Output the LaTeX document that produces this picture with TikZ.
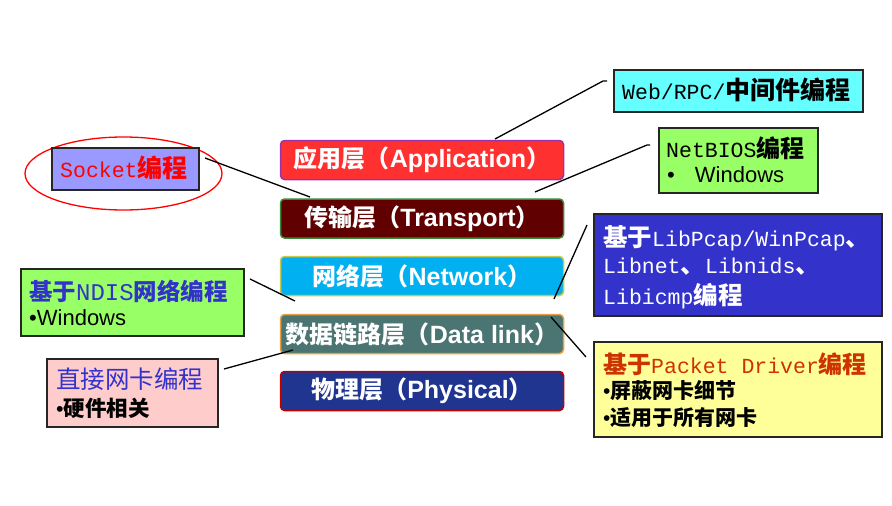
\documentclass[tikz,border=0pt]{standalone}
\usepackage{fontspec}
\usetikzlibrary{shapes.geometric}
\setmainfont{Liberation Sans}
\newfontfamily\cjk{Noto Sans CJK SC}
\newfontfamily\monof{Liberation Mono}
\definecolor{appred}{HTML}{FF3030}
\definecolor{appborder}{HTML}{9933AA}
\definecolor{trred}{HTML}{600000}
\definecolor{trborder}{HTML}{3A8A3A}
\definecolor{netblue}{HTML}{00B0F0}
\definecolor{netborder}{HTML}{C8C850}
\definecolor{dlgreen}{HTML}{4A7572}
\definecolor{dlborder}{HTML}{E8A040}
\definecolor{physblue}{HTML}{1F3590}
\definecolor{physborder}{HTML}{C00000}
\definecolor{sockfill}{HTML}{9999FF}
\definecolor{greenfill}{HTML}{99FF66}
\definecolor{pinkfill}{HTML}{FFCCCC}
\definecolor{cyanfill}{HTML}{66FFFF}
\definecolor{libfill}{HTML}{3333CC}
\definecolor{yelfill}{HTML}{FFFF99}
\definecolor{titleblue}{HTML}{3333CC}
\definecolor{titleorange}{HTML}{CC3300}
\newcommand\layertext[2]{{\cjk\bfseries #1（}{\fontsize{25}{28}\selectfont\bfseries #2}{\cjk\bfseries ）}}
\newcommand\cb[1]{{\cjk\bfseries #1}}
\newcommand\mo[1]{{\monof\fontsize{21.5}{24}\selectfont #1}}
\begin{document}
\begin{tikzpicture}[x=1pt,y=-1pt,
  layer/.style={draw, line width=1.5pt, rounded corners=4pt, minimum width=283pt, minimum height=39pt, inner sep=0pt, text=white, font=\fontsize{24}{27}\selectfont},
  infobox/.style={draw=black!85, line width=1.5pt, inner sep=0pt, anchor=north west},
  label/.style={anchor=west, inner sep=0pt},
  conn/.style={draw=black, line width=1.3pt}]
\useasboundingbox (0,0) rectangle (892,506);
\fill[white] (0,0) rectangle (892,506);

% layers
\node[layer, fill=appred, draw=appborder] (app) at (422,160) {\layertext{应用层}{Application}};
\node[layer, fill=trred, draw=trborder] (tra) at (422,218.5) {\layertext{传输层}{Transport}};
\node[layer, fill=netblue, draw=netborder] (net) at (422,276) {\layertext{网络层}{Network}};
\node[layer, fill=dlgreen, draw=dlborder] (dl) at (422,334) {\layertext{数据链路层}{Data link}};
\node[layer, fill=physblue, draw=physborder] (phy) at (422,391) {\layertext{物理层}{Physical}};

% left: socket
\node[draw=red, line width=1.3pt, ellipse, minimum width=197pt, minimum height=73pt, inner sep=0pt] (sockell) at (123.5,173.5) {};
\node[infobox, fill=sockfill, minimum width=147pt, minimum height=42pt] (sock) at (51,147) {};
\node[label, text=red, font=\fontsize{25}{28}\selectfont] (sockt) at (60,168) {\mo{Socket}\cb{编程}};

% left: NDIS
\node[infobox, fill=greenfill, minimum width=223pt, minimum height=67pt] (ndis) at (20,268) {};
\node[label, text=titleblue, font=\fontsize{23.5}{26}\selectfont] (ndist) at (29,291) {\cb{基于}{\monof\fontsize{24}{26}\selectfont NDIS}\cb{网络编程}};
\node[label, font=\fontsize{22}{25}\selectfont] (ndisw) at (29,318) {•Windows};

% left: direct NIC
\node[infobox, fill=pinkfill, minimum width=171pt, minimum height=68pt] (nic) at (46,358) {};
\node[label, text=titleblue, font=\fontsize{24.5}{27}\selectfont] (nict) at (56,379) {{\cjk 直接网卡编程}};
\node[label, font=\fontsize{21.5}{24}\selectfont] (nicb) at (56,408) {•\cb{硬件相关}};

% right: web
\node[infobox, fill=cyanfill, minimum width=249pt, minimum height=42pt] (web) at (613,69) {};
\node[label, font=\fontsize{25}{28}\selectfont] (webt) at (622,90) {\mo{Web/RPC/}\cb{中间件编程}};

% right: netbios
\node[infobox, fill=greenfill, minimum width=159pt, minimum height=65pt] (nb) at (658,127) {};
\node[label, font=\fontsize{24}{27}\selectfont] (nbt) at (666,148) {\mo{NetBIOS}\cb{编程}};
\node[label, font=\fontsize{22}{25}\selectfont] (nbw) at (667,175) {•\hspace{20pt}Windows};

% right: libpcap
\node[infobox, fill=libfill, minimum width=288pt, minimum height=102pt] (lib) at (593,213) {};
\node[label, text=white, font=\fontsize{24.5}{27}\selectfont] (lib1) at (603,238) {\cb{基于}\mo{LibPcap/WinPcap}\cb{、}};
\node[label, text=white, font=\fontsize{24.5}{27}\selectfont] (lib2) at (603,267) {\mo{Libnet}\cb{、}\mo{Libnids}\cb{、}};
\node[label, text=white, font=\fontsize{24.5}{27}\selectfont] (lib3) at (603,296) {\mo{Libicmp}\cb{编程}};

% right: packet driver
\node[infobox, fill=yelfill, minimum width=288pt, minimum height=95pt] (pd) at (593,341) {};
\node[label, text=titleorange, font=\fontsize{24}{27}\selectfont] (pdt) at (603,364) {\cb{基于}\mo{Packet Driver}\cb{编程}};
\node[label, font=\fontsize{21}{24}\selectfont] (pd1) at (603,391) {•\cb{屏蔽网卡细节}};
\node[label, font=\fontsize{21}{24}\selectfont] (pd2) at (603,418) {•\cb{适用于所有网卡}};

% connector endpoints
\coordinate (cwa) at (495,139);
\coordinate (cwb) at (603,81);
\coordinate (cwc) at (607,81);
\coordinate (cna) at (535,192);
\coordinate (cnb) at (647,145);
\coordinate (cnc) at (650,145);
\coordinate (csa) at (205,158);
\coordinate (csb) at (310,197);
\coordinate (cda) at (250,279);
\coordinate (cdb) at (295,301);
\coordinate (cia) at (224,369);
\coordinate (cib) at (293,350);
\coordinate (cla) at (554,299);
\coordinate (clb) at (587,225);
\coordinate (cpa) at (551,317);
\coordinate (cpb) at (586,357);

\draw[conn] (cwa) -- (cwb) -- (cwc);
\draw[conn] (cna) -- (cnb) -- (cnc);
\draw[conn] (csa) -- (csb);
\draw[conn] (cda) -- (cdb);
\draw[conn] (cia) -- (cib);
\draw[conn] (cla) -- (clb);
\draw[conn] (cpa) -- (cpb);
\end{tikzpicture}
\end{document}
